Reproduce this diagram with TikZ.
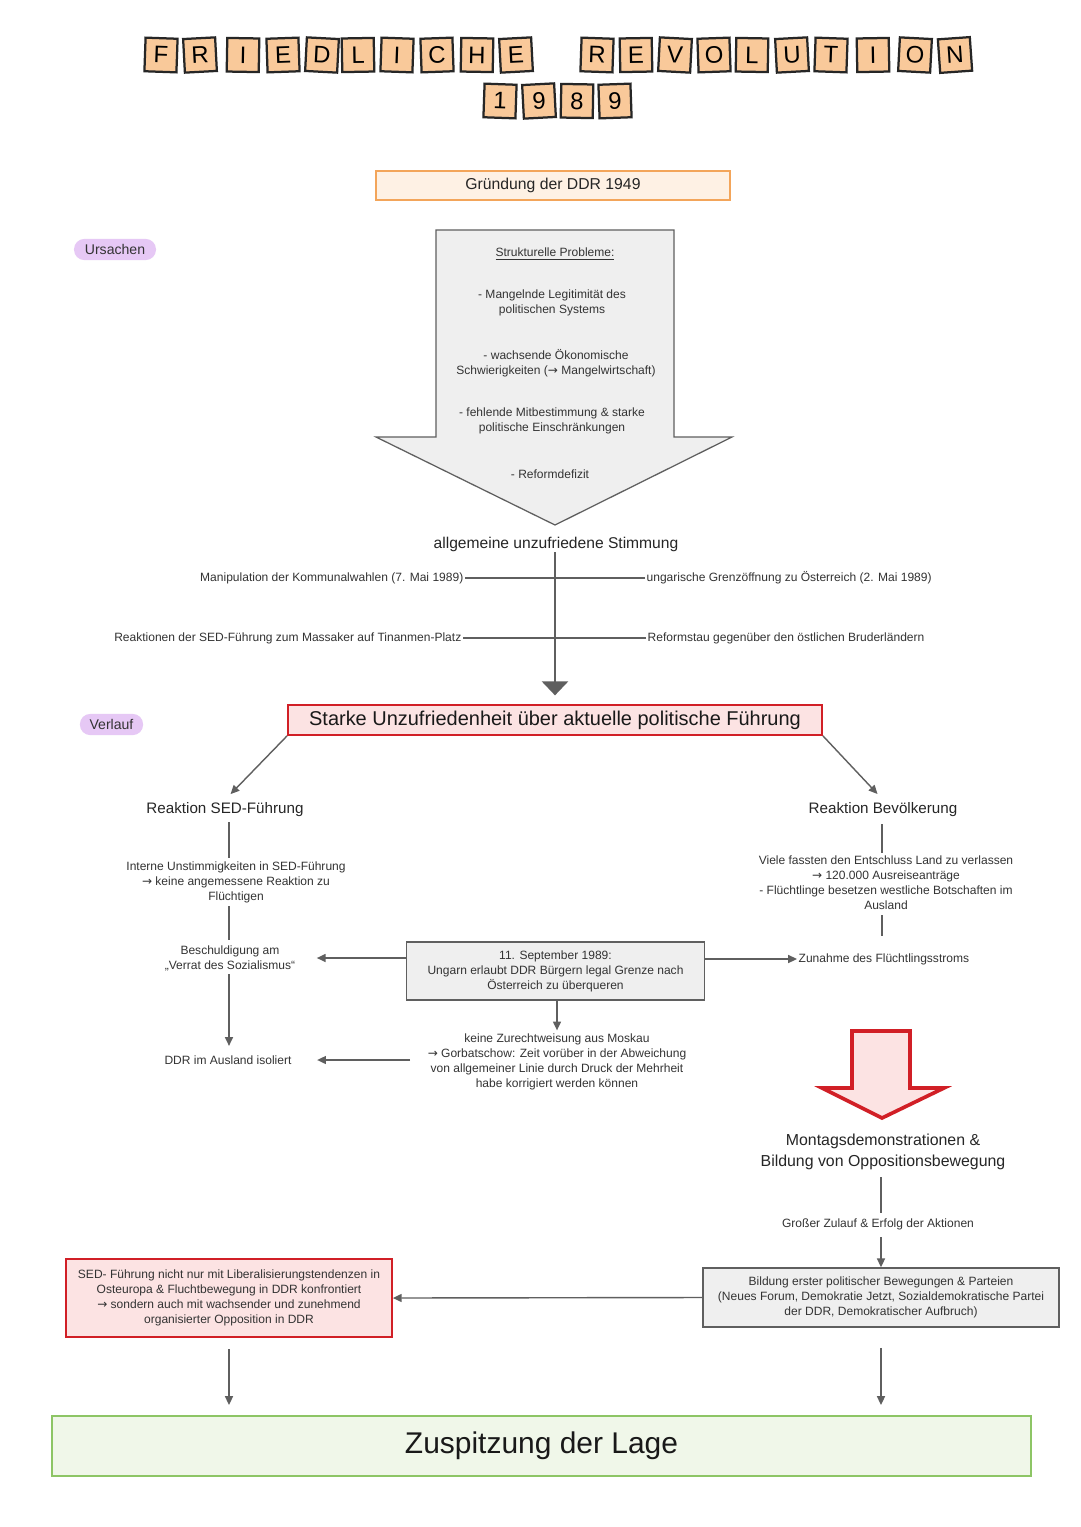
\documentclass[tikz,border=0pt]{standalone}
\usepackage{fontspec}
\setmainfont{Liberation Sans}
\newfontfamily\pfeilfont{DejaVu Sans}
\usetikzlibrary{arrows.meta}

\definecolor{kachelfarbe}{HTML}{F9C99A}
\definecolor{gruendfill}{HTML}{FEF1E4}
\definecolor{gruendrand}{HTML}{F3A55A}
\definecolor{lila}{HTML}{E6C8F5}
\definecolor{hellgrau}{HTML}{EFEFEF}
\definecolor{rotfill}{HTML}{FCE3E3}
\definecolor{rotrand}{HTML}{D11F26}
\definecolor{gruenfill}{HTML}{F0F7E9}
\definecolor{gruenrand}{HTML}{8DC565}
\definecolor{linienfarbe}{HTML}{5F5F5F}

\begin{document}
\begin{tikzpicture}[x=0.025cm,y=-0.025cm,
    kachel/.style={draw=black!85,line width=1.6pt,fill=kachelfarbe,
        minimum width=0.8cm,minimum height=0.84cm,inner sep=0pt,
        font=\fontsize{17}{17}\selectfont},
    klein/.style={font=\fontsize{8.55}{10.6}\selectfont,align=center,inner sep=1pt,text=black!80},
    mittel/.style={font=\fontsize{10.8}{14}\selectfont,align=center,inner sep=2pt,text=black!85},
    markierung/.style={fill=lila,rounded corners=0.26cm,minimum height=0.53cm,
        inner sep=0pt,font=\fontsize{10}{12}\selectfont,text=black!80},
    graubox/.style={draw=linienfarbe,line width=0.9pt,fill=hellgrau,klein},
    rotbox/.style={draw=rotrand,line width=1.2pt,fill=rotfill,klein},
    linie/.style={draw=linienfarbe,line width=1pt},
    pfeil/.style={linie,-{Triangle[length=0.22cm,width=0.2cm]}}]
\fill[white] (0,0) rectangle (1080,1527);
\useasboundingbox (0,0) rectangle (1080,1527);

% Titel
\foreach \ch/\xx/\dreh [count=\i] in {F/161/-2,R/200/3,I/243/-1,E/283/2,D/322/-3,
    L/358/1,I/397/-2,C/437/2,H/477/-1,E/516/3,R/597/-2,E/636/1,V/675/-3,O/714/2,
    L/752/-1,U/792/3,T/831/-2,I/873/1,O/915/-3,N/955/4}
  \node[kachel,rotate=\dreh] (titel\i) at (\xx,55) {\ch};
\foreach \ch/\xx/\dreh [count=\i] in {1/500/-2,9/539/3,8/577/-1,9/615/2}
  \node[kachel,rotate=\dreh] (jahr\i) at (\xx,101) {\ch};

\node[draw=gruendrand,line width=1.3pt,fill=gruendfill,minimum width=8.85cm,
    minimum height=0.73cm,font=\fontsize{11.2}{12}\selectfont,text=black!85]
    (gruendung) at (553,185.5) {Gründung der DDR 1949};

\node[markierung,minimum width=2.05cm] (ursachen) at (115,249.5) {Ursachen};
\node[markierung,minimum width=1.58cm] (verlauf) at (111.5,724.5) {Verlauf};

% Ursachen-Pfeil
\draw[linienfarbe,line width=0.9pt,fill=hellgrau]
    (436,230) -- (674,230) -- (674,437) -- (732,437) -- (555,525)
    -- (376,437) -- (436,437) -- cycle;
\node[klein] (struktur) at (555,254) {\underline{Strukturelle Probleme:}};
\node[klein] (legitim) at (552,303) {- Mangelnde Legitimität des\\politischen Systems};
\node[klein] (oekonom) at (556,363) {- wachsende Ökonomische\\Schwierigkeiten ({\pfeilfont →} Mangelwirtschaft)};
\node[klein] (mitbest) at (552,421) {- fehlende Mitbestimmung \& starke\\politische Einschränkungen};
\node[klein] (reform) at (550,474) {- Reformdefizit};

\node[mittel,font=\fontsize{11.1}{14}\selectfont] (stimmung) at (556,544) {allgemeine unzufriedene Stimmung};
\node[rotbox,minimum width=13.35cm,minimum height=0.75cm,
    font=\fontsize{14.2}{15}\selectfont,text=black!90]
    (starke) at (555,720) {Starke Unzufriedenheit über aktuelle politische Führung};
\draw[linie,line width=2pt,-{Triangle[length=0.35cm,width=0.65cm]},
    shorten <=0.2cm,shorten >=0.22cm] (stimmung -| starke) -- (starke);

% weitere Ursachen
\node[klein,anchor=east] (manip) at (465,578) {Manipulation der Kommunalwahlen (7. Mai 1989)};
\node[klein,anchor=west] (ungarn) at (645,578) {ungarische Grenzöffnung zu Österreich (2. Mai 1989)};
\node[klein,anchor=east] (tian) at (463,638) {Reaktionen der SED-Führung zum Massaker auf Tinanmen-Platz};
\node[klein,anchor=west] (reformstau) at (646,638) {Reformstau gegenüber den östlichen Bruderländern};
\draw[linie] (manip.east) -- (manip.east -| starke);
\draw[linie] (ungarn.west) -- (ungarn.west -| starke);
\draw[linie] (tian.east) -- (tian.east -| starke);
\draw[linie] (reformstau.west) -- (reformstau.west -| starke);

% Reaktion SED
\coordinate (spalteL) at (229,0);
\coordinate (spalteR) at (882,0);
\node[mittel] (reakSED) at (225,810) {Reaktion SED-Führung};
\node[klein] (intern) at (236,882) {Interne Unstimmigkeiten in SED-Führung\\{\pfeilfont →} keine angemessene Reaktion zu\\Flüchtigen};
\node[klein] (besch) at (230,958) {Beschuldigung am\\„Verrat des Sozialismus“};
\node[klein] (isoliert) at (228,1060) {DDR im Ausland isoliert};
\draw[pfeil] (starke.south west) -- (reakSED.north) [shorten >=0.2cm];
\draw[linie,shorten <=0.05cm,shorten >=0.05cm] (reakSED.south -| spalteL) -- (intern.north -| spalteL);
\draw[linie,shorten <=0.05cm,shorten >=0.1cm] (intern.south -| spalteL) -- (besch.north -| spalteL);
\draw[pfeil,shorten <=0.05cm,shorten >=0.2cm] (besch.south -| spalteL) -- (isoliert.north -| spalteL);

% Ungarn
\node[graubox,minimum width=7.43cm,minimum height=1.45cm] (sept) at (555.5,971)
    {11. September 1989:\\Ungarn erlaubt DDR Bürgern legal Grenze nach\\Österreich zu überqueren};
\node[klein] (moskau) at (557,1062) {keine Zurechtweisung aus Moskau\\{\pfeilfont →} Gorbatschow: Zeit vorüber in der Abweichung\\von allgemeiner Linie durch Druck der Mehrheit\\habe korrigiert werden können};
\draw[pfeil,shorten >=0.05cm] (sept.south -| moskau) -- (moskau.north -| moskau);
\draw[pfeil,shorten >=0.5cm] (sept.west |- besch) -- (besch.east);
\draw[pfeil,shorten <=0.4cm,shorten >=0.6cm] (moskau.west |- isoliert) -- (isoliert.east);

% Reaktion Bevoelkerung
\node[mittel] (reakBev) at (883,810) {Reaktion Bevölkerung};
\node[klein] (viele) at (886,883) {Viele fassten den Entschluss Land zu verlassen\\{\pfeilfont →} 120.000 Ausreiseanträge\\- Flüchtlinge besetzen westliche Botschaften im\\Ausland};
\node[klein,anchor=west] (zunahme) at (797,959) {Zunahme des Flüchtlingsstroms};
\draw[pfeil] (starke.south east) -- (reakBev.north) [shorten >=0.2cm];
\draw[linie,shorten <=0.1cm,shorten >=0.05cm] (reakBev.south -| spalteR) -- (viele.north -| spalteR);
\draw[linie,shorten <=0.1cm,shorten >=0.1cm] (viele.south -| spalteR) -- (spalteR |- 0,940);
\draw[pfeil] (sept.east |- zunahme) -- (zunahme.west);

% roter Pfeil
\draw[rotrand,line width=2.6pt,fill=rotfill,line join=miter]
    (852,1031) -- (910,1031) -- (910,1088) -- (944,1088) -- (882,1118)
    -- (822,1088) -- (852,1088) -- cycle;

\node[mittel,font=\fontsize{11.3}{15}\selectfont] (montag) at (883,1152)
    {Montagsdemonstrationen \&\\Bildung von Oppositionsbewegung};
\node[klein] (zulauf) at (878,1224) {Großer Zulauf \& Erfolg der Aktionen};
\node[graubox,minimum width=8.9cm,minimum height=1.48cm] (bildung) at (881,1297.5)
    {Bildung erster politischer Bewegungen \& Parteien\\(Neues Forum, Demokratie Jetzt, Sozialdemokratische Partei\\der DDR, Demokratischer Aufbruch)};
\draw[linie,shorten <=0.1cm,shorten >=0.1cm] (montag.south -| bildung) -- (zulauf.north -| bildung);
\draw[pfeil,shorten <=0.15cm] (zulauf.south -| bildung) -- (bildung.north);

\node[rotbox,minimum width=8.15cm,minimum height=1.95cm] (sedbox) at (229,1298)
    {SED- Führung nicht nur mit Liberalisierungstendenzen in\\Osteuropa \& Fluchtbewegung in DDR konfrontiert\\{\pfeilfont →} sondern auch mit wachsender und zunehmend\\organisierter Opposition in DDR};
\draw[pfeil] (bildung.west) -- (sedbox.east);

% Ergebnis
\node[draw=gruenrand,line width=1.4pt,fill=gruenfill,minimum width=24.48cm,
    minimum height=1.5cm,font=\fontsize{21.3}{22}\selectfont,text=black!90]
    (zusp) at (541.5,1446) {Zuspitzung der Lage};
\draw[pfeil,shorten <=0.28cm,shorten >=0.25cm] (sedbox.south) -- (sedbox.south |- zusp.north);
\draw[pfeil,shorten <=0.5cm,shorten >=0.25cm] (bildung.south) -- (bildung.south |- zusp.north);
\end{tikzpicture}
\end{document}
